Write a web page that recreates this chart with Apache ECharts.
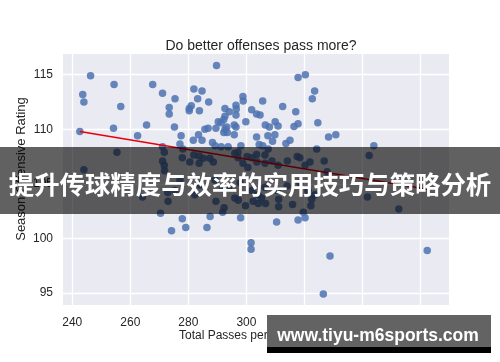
<!DOCTYPE html>
<html><head><meta charset="utf-8">
<script src="https://cdn.jsdelivr.net/npm/echarts@6/dist/echarts.min.js"></script>
<style>html,body{margin:0;padding:0;background:#fff}#c{width:500px;height:362px}</style>
</head><body><div id="c"></div>
<script>
const passes = [246.3,254.4,243.6,244.0,256.7,267.7,271.1,275.4,273.4,273.4,281.9,283.2,281.0,280.3,280.3,283.8,242.6,254.2,265.6,262.5,275.2,277.5,281.7,283.5,277.1,278.1,271.1,271.7,255.4,271.1,271.7,277.9,281.9,283.7,280.5,271.8,244.0,
289.7,317.8,320.3,323.5,322.7,284.7,287.0,298.8,298.9,305.6,296.4,296.5,296.4,292.6,294.1,292.6,292.2,301.8,303.5,304.7,312.5,317.0,299.8,290.3,291.3,295.8,296.4,293.2,292.6,292.2,293.4,289.5,285.7,286.8,284.7,295.8,303.5,306.5,307.9,309.9,310.9,307.4,309.8,309.0,316.4,317.8,324.6,328.3,313.6,315.0,288.3,289.2,291.3,298.1,304.4,305.6,307.5,293.7,297.1,300.2,303.5,306.4,314.1,317.5,324.2,326.8,287.4,288.6,
330.8,343.9,342.3,327.8,
289.5,292.3,291.8,296.0,297.2,299.7,302.3,304.1,305.2,306.6,311.1,311.1,315.9,319.6,322.5,322.2,
277.9,279.1,287.5,286.4,298.0,310.4,317.8,320.2,301.6,301.6,328.8,326.5,
273.0,270.4,274.2,264.2,341.7,352.5,362.3,272.9,
285.1,283.7,296.0,297.1,298.8,300.5,301.9,303.6,306.4,308.8,310.9,318.4,320.2,321.9,
289.2,291.9,293.7,297.8,301.9,304.0,306.4,310.6,314.0,318.4,321.2,323.6,284.0,282.2,277.1,275.4];
const rating = [114.9,114.1,113.2,112.5,112.1,114.1,113.3,112.8,112.0,111.4,113.7,112.8,112.15,111.9,111.7,111.7,109.8,110.1,110.4,109.4,110.2,109.4,109.0,109.5,108.65,108.2,108.4,107.9,107.9,107.1,106.7,107.4,107.65,107.55,107.0,106.2,106.3,
115.85,114.75,115.0,113.5,112.8,113.5,112.5,113.0,112.6,112.6,112.2,111.85,111.3,111.9,111.6,111.2,110.9,111.8,111.4,111.3,112.1,111.6,110.7,110.7,110.6,110.4,110.2,110.2,110.0,109.7,109.7,110.1,110.0,110.1,109.0,109.5,109.3,110.4,110.2,110.7,110.3,109.4,109.5,108.9,110.25,110.5,110.6,109.3,108.7,109.0,108.8,108.5,108.4,108.5,108.6,108.5,108.2,108.4,107.9,107.5,107.7,107.65,107.1,107.5,108.2,107.1,107.35,107.0,
109.5,108.5,107.6,106.1,
103.4,102.8,102.4,103.7,103.5,103.0,103.4,103.2,103.7,103.2,103.6,102.9,103.1,102.4,103.6,103.0,
101.8,101.0,102.0,101.0,101.9,101.5,101.7,101.9,99.6,99.0,98.4,94.9,
103.4,102.3,100.7,103.8,103.8,102.7,98.9,104.2,
107.35,106.9,107.8,107.4,106.9,106.5,107.4,107.0,106.9,107.1,106.7,107.4,106.7,107.0,
105.35,104.7,104.6,105.1,104.4,104.0,104.7,104.4,104.8,105.1,104.4,104.0,104.9,104.0,105.35,104.4];
const fitX = [242.6, 362.3];
const fitY = [109.8, 104.5];
const xTicks = [240,260,280,300,320,340,360];
const yTicks = [95,100,105,110,115];

const chart = echarts.init(document.getElementById('c'), null, {renderer:'canvas'});
const pts = passes.map((x,i)=>[x, rating[i]]);
const fit = fitX.map((x,i)=>[x, fitY[i]]);
chart.setOption({
  animation:false,
  title:{text:'Do better offenses pass more?', left:256, top:34, textAlign:'center',
    textStyle:{fontFamily:'Liberation Sans', fontSize:14, fontWeight:'normal', color:'#262626'}},
  grid:{left:63, right:51, top:54, bottom:57, show:true, backgroundColor:'#EAEAF2', borderWidth:0},
  xAxis:{type:'value', min:236.8, max:369.8,
    axisLine:{show:false}, axisTick:{show:false, customValues:xTicks},
    axisLabel:{customValues:xTicks, color:'#262626', fontFamily:'Liberation Sans', fontSize:12, margin:12},
    splitLine:{show:true, lineStyle:{color:'#fff', width:1.3}}},
  yAxis:{type:'value', min:93.9, max:116.9,
    axisLine:{show:false}, axisTick:{show:false, customValues:yTicks},
    axisLabel:{customValues:yTicks, color:'#262626', fontFamily:'Liberation Sans', fontSize:12, margin:10},
    splitLine:{show:true, lineStyle:{color:'#fff', width:1.3}}},
  series:[
    {type:'scatter', data:pts, symbolSize:7.5, itemStyle:{color:'#4C72B0', opacity:0.85}, z:2},
    {type:'line', data:fit, showSymbol:false, lineStyle:{color:'#e8000b', width:1.5}, z:3}
  ],
  graphic:[
    {type:'text', left:179, top:330, style:{text:'Total Passes per Game', fontFamily:'Liberation Sans', fontSize:12, fill:'#262626'}, z:10},
    {type:'text', x:21, y:169, rotation:Math.PI/2, style:{text:'Season Offensive Rating', fontFamily:'Liberation Sans', fontSize:13, fill:'#262626', align:'center', verticalAlign:'middle'}, z:10},
    {type:'rect', shape:{x:0, y:147, width:500, height:67}, style:{fill:'rgba(0,0,0,0.62)'}, z:100},
    {type:'text', x:250, y:184, style:{text:'提升传球精度与效率的实用技巧与策略分析', fontFamily:'Noto Sans CJK SC', fontWeight:'bold', fontSize:25.4, fill:'#fff', align:'center', verticalAlign:'middle'}, z:101},
    {type:'rect', shape:{x:267, y:315, width:224, height:38}, style:{fill:'#636363'}, z:100},
    {type:'rect', shape:{x:267, y:347, width:224, height:6}, style:{fill:'#000'}, z:100},
    {type:'text', x:378, y:336, style:{text:'www.tiyu-m6sports.com', fontFamily:'Liberation Sans', fontWeight:'bold', fontSize:17.5, fill:'#fff', align:'center', verticalAlign:'middle'}, z:101}
  ]
});
</script></body></html>
